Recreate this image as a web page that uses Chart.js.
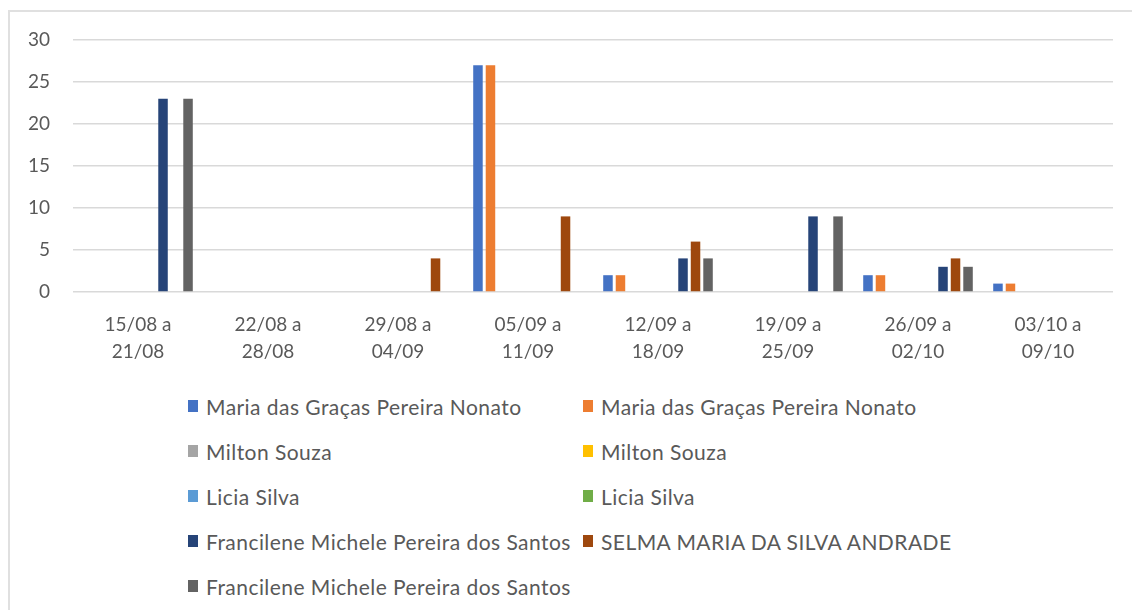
<!DOCTYPE html>
<html>
<head>
<meta charset="utf-8">
<script src="https://cdn.jsdelivr.net/npm/chart.js@4.4.1/dist/chart.umd.min.js"></script>
<style>
  body { margin:0; background:#fff; width:1132px; height:610px; overflow:hidden; position:relative; font-family:Lato, sans-serif; }
  #frame { position:absolute; left:8px; top:10px; width:1140px; height:620px; border:2px solid #e0e0e0; box-sizing:border-box; }
  #chartbox { position:absolute; left:0; top:0; }
  #legend { position:absolute; left:188px; top:394px; }
  .lrow { height:45px; display:flex; }
  .litem { display:flex; align-items:flex-start; color:#595959; font-size:21px; letter-spacing:0.45px; white-space:nowrap; }
  .litem.c1 { width:395px; }
  .lbox { width:10px; height:12px; margin-top:6px; margin-right:8px; }
</style>
</head>
<body>
<div id="frame"></div>
<div id="chartbox"><canvas id="weekly_chart" width="1132" height="380"></canvas></div>
<div id="legend"></div>
<script>
// week labels (two lines each)
let weeks = [['15/08 a','21/08'],['22/08 a','28/08'],['29/08 a','04/09'],['05/09 a','11/09'],
             ['12/09 a','18/09'],['19/09 a','25/09'],['26/09 a','02/10'],['03/10 a','09/10']] ;

let names = ['Maria das Graças Pereira Nonato','Maria das Graças Pereira Nonato',
             'Milton Souza','Milton Souza','Licia Silva','Licia Silva',
             'Francilene Michele Pereira dos Santos','SELMA MARIA DA SILVA ANDRADE',
             'Francilene Michele Pereira dos Santos'] ;

let colors = ['#4472C4','#ED7D31','#A5A5A5','#FFC000','#5B9BD5','#70AD47','#264478','#9E480E','#636363'] ;

// values per week
let mariaA      = [0,0,0,27,2,0,2,1] ;
let mariaB      = [0,0,0,27,2,0,2,1] ;
let miltonA     = [0,0,0,0,0,0,0,0] ;
let miltonB     = [0,0,0,0,0,0,0,0] ;
let liciaA      = [0,0,0,0,0,0,0,0] ;
let liciaB      = [0,0,0,0,0,0,0,0] ;
let francileneA = [23,0,0,0,4,9,3,0] ;
let selma       = [0,0,4,9,6,0,4,0] ;
let francileneB = [23,0,0,0,4,9,3,0] ;

let yTicks = [0,5,10,15,20,25,30] ;

let seriesVals = [mariaA,mariaB,miltonA,miltonB,liciaA,liciaB,francileneA,selma,francileneB] ;

let datasets = seriesVals.map((vals,i)=>{
    return {
        label: names[i],
        data: vals,
        backgroundColor: colors[i],
        categoryPercentage: 0.866,
        barPercentage: 0.76,
    } ;
}) ;

let fontTick = {family:'Lato', size:19} ;

let ctx = document.getElementById('weekly_chart').getContext('2d') ;
let weekly_chart = new Chart(ctx, {
    type: 'bar',
    data: { labels: weeks, datasets: datasets },
    options: {
        responsive: false,
        animation: false,
        layout: { padding: {left:0, right:19, top:40, bottom:0} },
        plugins: { legend: {display:false}, tooltip: {enabled:false} },
        scales: {
            x: {
                grid: {display:false},
                border: {display:false},
                ticks: {color:'#595959', font:{family:'Lato', size:19, lineHeight:1.42}, padding:11, maxRotation:0, autoSkip:false},
                afterFit: function(scale){ scale.height = 88 ; }
            },
            y: {
                min: 0, max: 30,
                afterBuildTicks: function(scale){ scale.ticks = yTicks.map(v=>({value:v})) ; },
                grid: {color:'#d9d9d9', lineWidth:1.5, drawTicks:false},
                border: {display:false},
                ticks: {color:'#595959', font:fontTick, padding:23},
                afterFit: function(scale){ scale.width = 73 ; }
            }
        }
    }
}) ;

// legend, two columns
let legendEl = document.getElementById('legend') ;
let legendStr = '' ;
for (let i=0; i<names.length; i+=2) {
    legendStr += '<div class="lrow">' ;
    for (let j=i; j<Math.min(i+2,names.length); j++) {
        legendStr += `<div class="litem ${j===i?'c1':''}"><div class="lbox" style="background:${colors[j]}"></div>${names[j]}</div>` ;
    }
    legendStr += '</div>' ;
}
legendEl.innerHTML = legendStr ;
</script>
</body>
</html>
